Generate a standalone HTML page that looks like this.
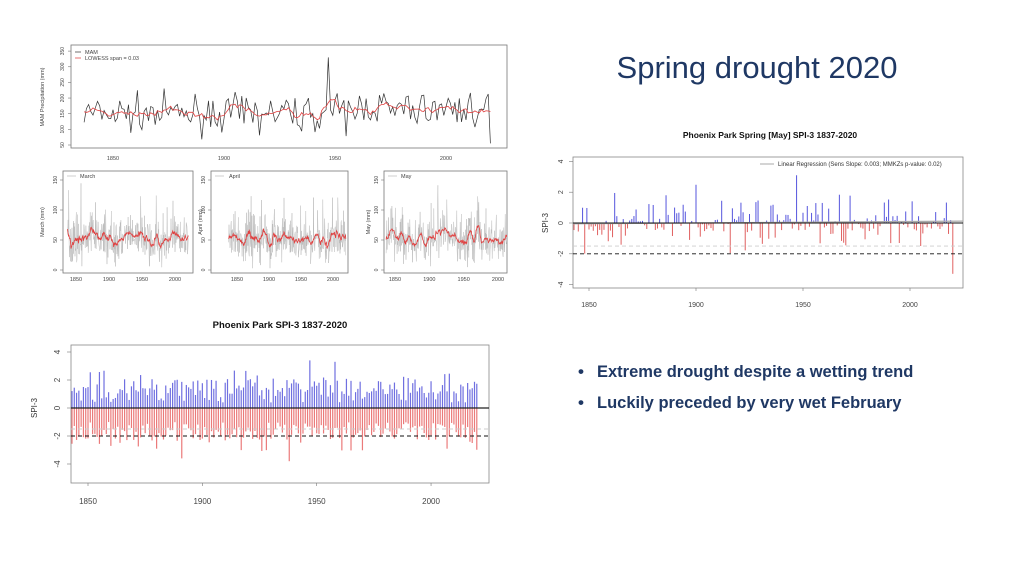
<!DOCTYPE html>
<html><head><meta charset="utf-8"><style>
html,body{margin:0;padding:0;background:#fff;width:1024px;height:576px;overflow:hidden}
svg{display:block}
text{font-family:"Liberation Sans",sans-serif}
</style></head><body>
<svg id="s" width="1024" height="576" viewBox="0 0 1024 576" xmlns="http://www.w3.org/2000/svg">
<defs>
<clipPath id="c0"><rect x="63" y="171" width="130" height="102"/></clipPath>
<clipPath id="c1"><rect x="211" y="171" width="137" height="102"/></clipPath>
<clipPath id="c2"><rect x="384" y="171" width="123" height="102"/></clipPath>
</defs>
<rect width="1024" height="576" fill="#fff"/>
<text x="757" y="78" font-size="31" fill="#1f3864" text-anchor="middle">Spring drought 2020</text>
<text x="578" y="377" font-size="17" fill="#1f3864" font-weight="bold">•</text>
<text x="597" y="377" font-size="16.5" fill="#1f3864" font-weight="bold">Extreme drought despite a wetting trend</text>
<text x="578" y="408" font-size="17" fill="#1f3864" font-weight="bold">•</text>
<text x="597" y="408" font-size="16.5" fill="#1f3864" font-weight="bold">Luckily preceded by very wet February</text>

<g font-size="5.5" fill="#444">
<rect x="71" y="45" width="436" height="103" fill="none" stroke="#777" stroke-width="0.8"/>
<text x="44" y="97" transform="rotate(-90 44 97)" text-anchor="middle">MAM Precipitation (mm)</text>
<text x="113" y="160" text-anchor="middle">1850</text><text x="224" y="160" text-anchor="middle">1900</text>
<text x="335" y="160" text-anchor="middle">1950</text><text x="446" y="160" text-anchor="middle">2000</text>
<line x1="75" y1="52" x2="81" y2="52" stroke="#333" stroke-width="0.7"/><text x="85" y="54">MAM</text>
<line x1="75" y1="58" x2="81" y2="58" stroke="#d33" stroke-width="0.7"/><text x="85" y="60">LOWESS span = 0.03</text>
</g>
<g font-size="5.5" fill="#444">
<rect x="63" y="171" width="130" height="102" fill="none" stroke="#777" stroke-width="0.8"/>
<rect x="211" y="171" width="137" height="102" fill="none" stroke="#777" stroke-width="0.8"/>
<rect x="384" y="171" width="123" height="102" fill="none" stroke="#777" stroke-width="0.8"/>
<text x="44" y="222" transform="rotate(-90 44 222)" text-anchor="middle">March (mm)</text>
<text x="202" y="222" transform="rotate(-90 202 222)" text-anchor="middle">April (mm)</text>
<text x="370" y="222" transform="rotate(-90 370 222)" text-anchor="middle">May (mm)</text>
<text x="80" y="178">March</text><text x="229" y="178">April</text><text x="401" y="178">May</text>
</g>

<g font-size="7" fill="#333">
<text x="770" y="138" text-anchor="middle" font-weight="bold" font-size="8.5" fill="#111">Phoenix Park Spring [May] SPI-3 1837-2020</text>
<rect x="573" y="157" width="390" height="131" fill="none" stroke="#888" stroke-width="0.8"/>
<text x="548" y="223" transform="rotate(-90 548 223)" text-anchor="middle" font-size="8">SPI-3</text>
<line x1="760" y1="164" x2="774" y2="164" stroke="#aaa" stroke-width="1"/>
<text x="778" y="166" font-size="6">Linear Regression (Sens Slope: 0.003; MMKZs p-value: 0.02)</text>
</g>

<g font-size="8" fill="#333">
<text x="280" y="328" text-anchor="middle" font-weight="bold" font-size="9.5" fill="#111">Phoenix Park SPI-3 1837-2020</text>
<rect x="71" y="345" width="418" height="138" fill="none" stroke="#888" stroke-width="0.8"/>
<text x="37" y="408" transform="rotate(-90 37 408)" text-anchor="middle">SPI-3</text>
</g>
<g id="d"></g>
</svg>
<script>
var seed=7;function r(){seed=(seed*16807)%2147483647;return seed/2147483647;}
function n(){return (r()+r()+r()+r()-2)*1.7;}
var NS="http://www.w3.org/2000/svg",g=document.getElementById('d');
function el(t,a,par){var e=document.createElementNS(NS,t);for(var k in a)e.setAttribute(k,a[k]);(par||g).appendChild(e);return e;}
function txt(x,y,s,sz,rot){var e=el('text',{x:x,y:y,'font-size':sz,fill:'#444','text-anchor':'middle'});if(rot)e.setAttribute('transform','rotate(-90 '+x+' '+y+')');e.textContent=s;}
var X=function(y){return 113+(y-1850)*2.22},Y=function(v){return 145-(v-50)*0.313};
var vals=[],p='',sm='';
for(var y=1837;y<=2020;y++){var v=150+n()*28+(y>1960&&y<1975?25:0)+(y>1978?15:0);if(y==1947)v=330;if(y==2020)v=55;vals.push(v);}
vals.forEach(function(v,i){p+=(i?'L':'M')+X(1837+i).toFixed(1)+' '+Y(v).toFixed(1);});
for(var i=0;i<vals.length;i++){var s=0,c=0;for(var j=-3;j<=3;j++)if(vals[i+j]!==undefined){s+=vals[i+j];c++;}sm+=(i?'L':'M')+X(1837+i).toFixed(1)+' '+Y(s/c).toFixed(1);}
el('path',{d:p,fill:'none',stroke:'#333','stroke-width':0.7});
el('path',{d:sm,fill:'none',stroke:'#e04040','stroke-width':0.8});
[50,100,150,200,250,300,350].forEach(function(v){el('line',{x1:68,x2:71,y1:Y(v),y2:Y(v),stroke:'#777','stroke-width':0.6});txt(64,Y(v),v,5,1);});
[[63,193,76,175],[211,348,237,333],[384,507,395,498]].forEach(function(b,k){
 var xs=function(y){return b[2]+(y-1850)*(b[3]-b[2])/150},ys=function(v){return 270-v*0.6};
 var grp=el('g',{'clip-path':'url(#c'+k+')'});
 var q='',m='',arr=[];
 for(var y=1837;y<=2020;y+=0.5){arr.push(Math.max(3,50+n()*18+(r()<0.08?45:0)));}
 arr.forEach(function(v,i){q+=(i?'L':'M')+xs(1837+i/2).toFixed(1)+' '+ys(v).toFixed(1);});
 for(var i=0;i<arr.length;i++){var s=0,c=0;for(var j=-6;j<=6;j++)if(arr[i+j]!==undefined){s+=arr[i+j];c++;}m+=(i?'L':'M')+xs(1837+i/2).toFixed(1)+' '+ys(s/c).toFixed(1);}
 el('path',{d:q,fill:'none',stroke:'#bbb','stroke-width':0.5},grp);
 el('path',{d:m,fill:'none',stroke:'#e04040','stroke-width':0.8},grp);
 [0,50,100,150].forEach(function(v){el('line',{x1:b[0]-3,x2:b[0],y1:ys(v),y2:ys(v),stroke:'#777','stroke-width':0.6});txt(b[0]-6,ys(v),v,5,1);});
 [1850,1900,1950,2000].forEach(function(y){txt(xs(y),281,y,5.5);});
 el('line',{x1:b[0]+4,x2:b[0]+13,y1:176,y2:176,stroke:'#bbb','stroke-width':0.7});
});
var RX=function(y){return 589+(y-1850)*2.14},RY=function(v){return 223-v*15.4};
for(var y=1843;y<=2020;y++){var v=n()*0.6+(r()<0.3?1:0)*(r()<0.55?1.1:-1);if(y==1947)v=3.1;if(y==2020)v=-3.3;if(y==1862)v=1.95;
 el('line',{x1:RX(y),x2:RX(y),y1:RY(0),y2:RY(v),stroke:v>0?'#5555dd':'#e06060','stroke-width':1});}
el('line',{x1:573,x2:963,y1:RY(-1.5),y2:RY(-1.5),stroke:'#ccc','stroke-width':0.9,'stroke-dasharray':'4 3'});
el('line',{x1:573,x2:963,y1:RY(-2),y2:RY(-2),stroke:'#111','stroke-width':0.9,'stroke-dasharray':'4 3'});
el('line',{x1:573,x2:963,y1:RY(-0.05),y2:RY(0.12),stroke:'#aaa','stroke-width':1.2});
el('line',{x1:573,x2:963,y1:RY(0),y2:RY(0),stroke:'#111','stroke-width':1});
[-4,-2,0,2,4].forEach(function(v){el('line',{x1:569,x2:573,y1:RY(v),y2:RY(v),stroke:'#777','stroke-width':0.6});txt(563,RY(v),v,7,1);});
[1850,1900,1950,2000].forEach(function(y){el('line',{x1:RX(y),x2:RX(y),y1:288,y2:291,stroke:'#777','stroke-width':0.6});txt(RX(y),307,y,7);});
var BX=function(y){return 88+(y-1850)*2.287},BY=function(v){return 408-v*14};
for(var y=1843;y<=2020;y++){var a=Math.abs(0.4+r()*1.7+(r()<0.2?0.6:0)),b=-Math.abs(1+r()*1.3+(r()<0.15?0.8:0));
 if(y==1947)a=3.4;if(y==1958)a=3.3;if(y==1938)b=-3.8;if(y==1891)b=-3.6;
 el('line',{x1:BX(y),x2:BX(y),y1:BY(0),y2:BY(a),stroke:'#6f6fe0','stroke-width':1.2});
 el('line',{x1:BX(y),x2:BX(y),y1:BY(0),y2:BY(b),stroke:'#eb7a7a','stroke-width':1.2});}
el('line',{x1:71,x2:489,y1:BY(-1.5),y2:BY(-1.5),stroke:'#ccc','stroke-width':0.9,'stroke-dasharray':'4 3'});
el('line',{x1:71,x2:489,y1:BY(-2),y2:BY(-2),stroke:'#111','stroke-width':1,'stroke-dasharray':'4 3'});
el('line',{x1:71,x2:489,y1:BY(0),y2:BY(0),stroke:'#222','stroke-width':1.2});
[-4,-2,0,2,4].forEach(function(v){el('line',{x1:67,x2:71,y1:BY(v),y2:BY(v),stroke:'#777','stroke-width':0.6});txt(60,BY(v),v,8,1);});
[1850,1900,1950,2000].forEach(function(y){el('line',{x1:BX(y),x2:BX(y),y1:483,y2:486,stroke:'#777','stroke-width':0.6});txt(BX(y),504,y,8);});
</script>
</body></html>
